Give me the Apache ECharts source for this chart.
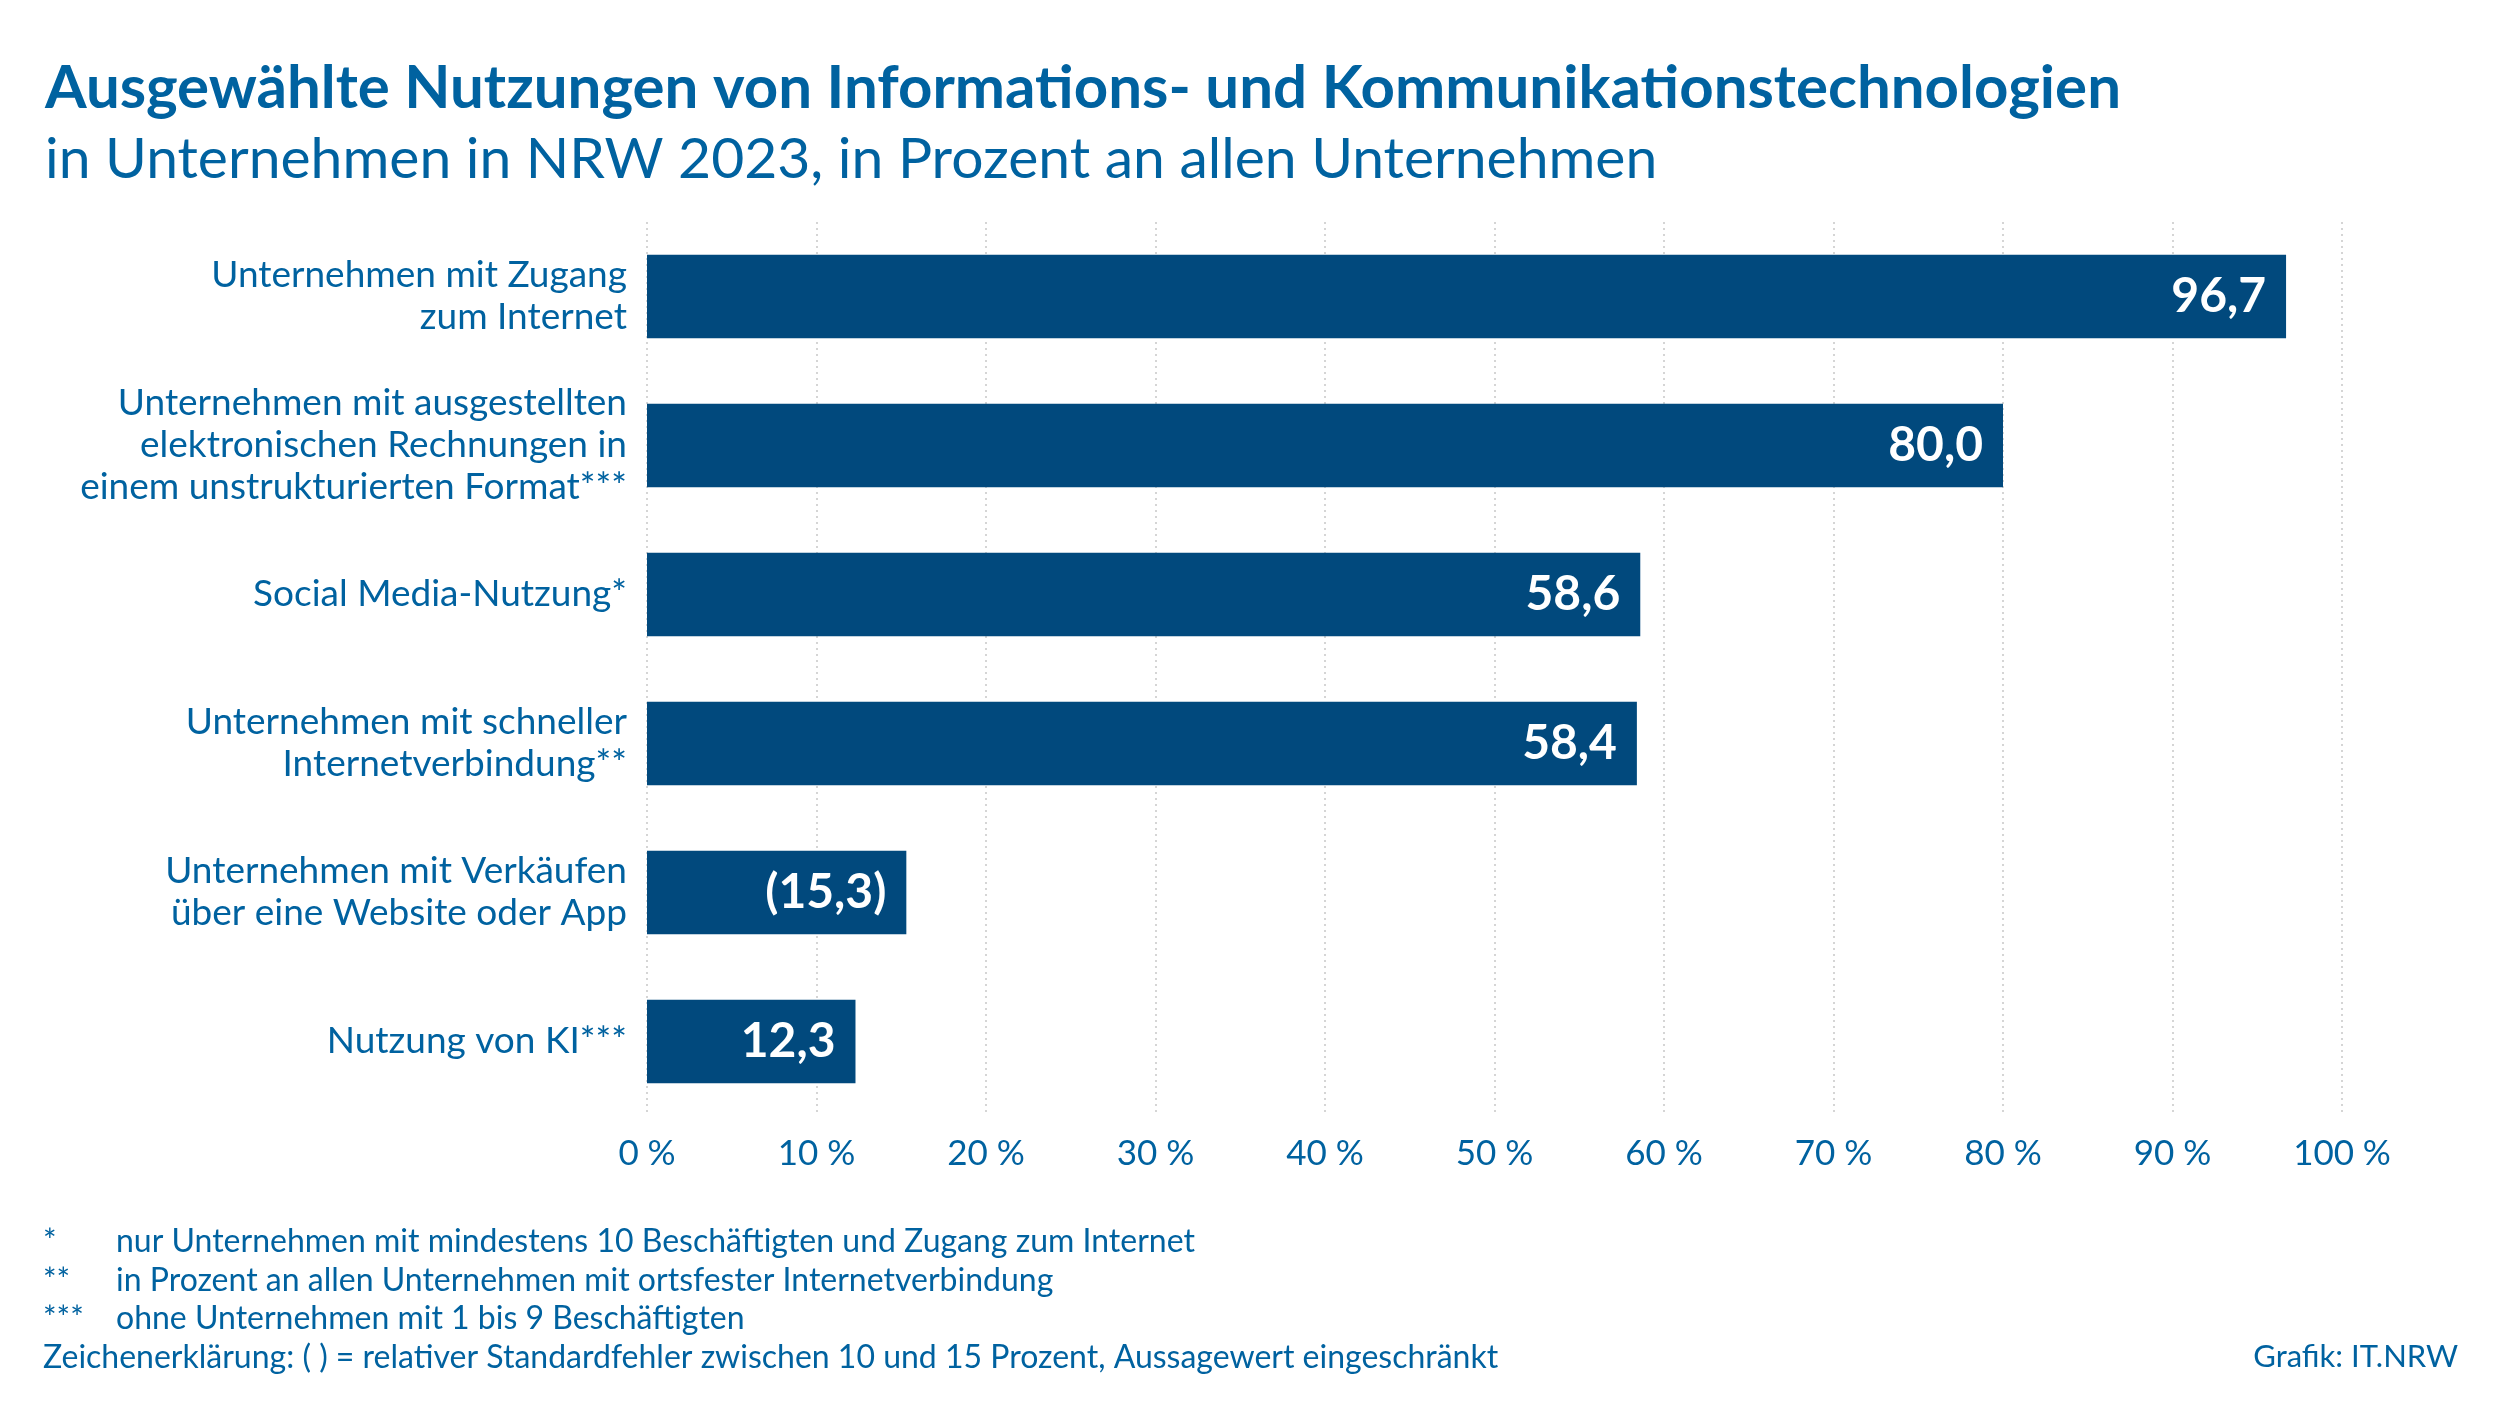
<!DOCTYPE html>
<html>
<head>
<meta charset="utf-8">
<script src="https://cdn.jsdelivr.net/npm/echarts@6/dist/echarts.min.js"></script>
<style>
html,body{margin:0;padding:0;background:#fff;}
#chart{width:2500px;height:1406px;}
</style>
</head>
<body>
<div id="chart"></div>
<script>
const titleText = 'Ausgewählte Nutzungen von Informations- und Kommunikationstechnologien';
const subtitleText = 'in Unternehmen in NRW 2023, in Prozent an allen Unternehmen';
const categories = [
  'Unternehmen mit Zugang\nzum Internet',
  'Unternehmen mit ausgestellten\nelektronischen Rechnungen in\neinem unstrukturierten Format***',
  'Social Media-Nutzung*',
  'Unternehmen mit schneller\nInternetverbindung**',
  'Unternehmen mit Verkäufen\nüber eine Website oder App',
  'Nutzung von KI***'
];
const values = [96.7, 80.0, 58.6, 58.4, 15.3, 12.3];
const restricted = [false, false, false, false, true, false];
const footMarks = ['*', '**', '***'];
const footTexts = [
  'nur Unternehmen mit mindestens 10 Beschäftigten und Zugang zum Internet',
  'in Prozent an allen Unternehmen mit ortsfester Internetverbindung',
  'ohne Unternehmen mit 1 bis 9 Beschäftigten'
];
const legendNote = 'Zeichenerklärung: ( ) = relativer Standardfehler zwischen 10 und 15 Prozent, Aussagewert eingeschränkt';
const sourceText = 'Grafik: IT.NRW';

const TEXT = '#0062A0';
const BAR = '#01497D';
const FONT = 'Lato';

const chart = echarts.init(document.getElementById('chart'));

const graphics = [];
footMarks.forEach((m, i) => {
  graphics.push({type:'text', left:43, top:1226 + i*38.5, style:{text:m, fill:TEXT, font:'32px ' + FONT}});
  graphics.push({type:'text', left:116, top:1226 + i*38.5, style:{text:footTexts[i], fill:TEXT, font:'32px ' + FONT}});
});
graphics.push({type:'text', left:43, top:1226 + 3*38.5, style:{text:legendNote, fill:TEXT, font:'32px ' + FONT}});
graphics.push({type:'text', right:42, top:1226 + 3*38.5, style:{text:sourceText, fill:TEXT, font:'31px ' + FONT}});

chart.setOption({
  animation:false,
  backgroundColor:'#ffffff',
  title:[
    {text:titleText, left:40, top:54, textStyle:{color:TEXT, fontFamily:FONT, fontWeight:'bold', fontSize:60}},
    {text:subtitleText, left:40, top:126, textStyle:{color:TEXT, fontFamily:FONT, fontWeight:'normal', fontSize:57}}
  ],
  grid:{left:647, right:158, top:222, height:894, containLabel:false},
  xAxis:{
    type:'value', min:0, max:100, interval:10,
    axisLine:{show:false}, axisTick:{show:false},
    splitLine:{show:true, lineStyle:{color:'#c8c8c8', type:[2,4], width:1.5}},
    axisLabel:{color:TEXT, fontFamily:FONT, fontSize:35, margin:20,
      formatter:v => v + '\u202F%'}
  },
  yAxis:{
    type:'category', data:categories, inverse:true,
    axisLine:{show:false}, axisTick:{show:false},
    axisLabel:{color:TEXT, fontFamily:FONT, fontSize:37, lineHeight:42, margin:20, align:'right', padding:[18,0,0,0]}
  },
  series:[{
    type:'bar', data:values, barCategoryGap:'44%',
    itemStyle:{color:BAR},
    label:{show:true, position:'insideRight', distance:20, color:'#fff',
      fontFamily:FONT, fontWeight:'bold', fontSize:48,
      formatter:p => {
        const s = p.value.toFixed(1).replace('.', ',');
        return restricted[p.dataIndex] ? '(' + s + ')' : s;
      }}
  }],
  graphic:graphics
});
</script>
</body>
</html>
